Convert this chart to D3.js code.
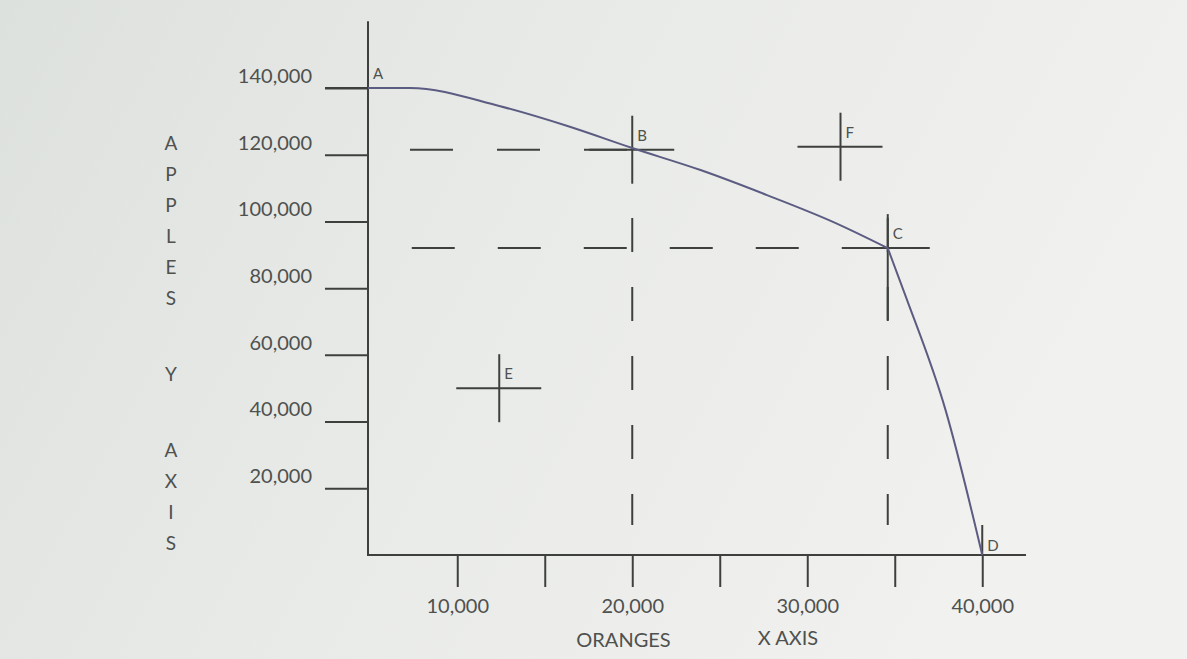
<html>
  <head>
    <meta charset="utf-8">
    <script src="https://d3js.org/d3.v7.min.js"></script>
    <title>Production possibilities</title>
    <style>
      body {
        margin: 0px;
        overflow: hidden;
      }
      text {
        font-family: Lato, "Open Sans", sans-serif;
        fill: #4f514f;
      }
      .axis .domain {
        display: none;
      }
      .axis .tick line {
        stroke: #3e403e;
        stroke-width: 2px;
      }
      .axis .tick text {
        font-size: 20px;
      }
      .ink {
        stroke: #3e403e;
        stroke-width: 2px;
        fill: none;
      }
    </style>
  </head>
  <body>
    <svg width="1187" height="659"></svg>
    <script>
      // values
      var xTickValues = [10000, 15000, 20000, 25000, 30000, 35000, 40000];
      var xTickLabels = ['10,000', '', '20,000', '', '30,000', '', '40,000'];
      var yTickValues = [20000, 40000, 60000, 80000, 100000, 120000, 140000];

      var frontierOranges = [4900, 7300, 12400, 16300, 20000, 23900, 27700, 31500, 34600, 35600, 37900, 40000];
      var frontierApples = [140000, 140000, 134600, 128600, 122000, 115400, 107900, 99800, 92000, 77900, 43500, 0];

      var pointLabels = ['A', 'B', 'C', 'D', 'E', 'F'];
      var pointOranges = [4900, 20000, 34600, 40000, 12400, 31900];
      var pointApples = [140000, 121500, 92000, 0, 50000, 122400];

      var yAxisTitle = 'APPLES Y AXIS';
      var xAxisTitle = ['ORANGES', 'X AXIS'];

      var svg = d3.select('svg');
      var width = +svg.attr('width');
      var height = +svg.attr('height');

      var grad = svg.append('defs').append('linearGradient')
          .attr('id', 'paper')
          .attr('x1', 0).attr('x2', 1).attr('y1', 0).attr('y2', 0.3);
      grad.append('stop').attr('offset', 0).attr('stop-color', '#dde1dd');
      grad.append('stop').attr('offset', 0.5).attr('stop-color', '#e9ebe8');
      grad.append('stop').attr('offset', 1).attr('stop-color', '#f1f1ef');
      svg.append('rect')
          .attr('width', width).attr('height', height)
          .attr('fill', 'url(#paper)');

      var xScale = d3.scaleLinear().domain([4900, 42500]).range([368, 1026]);
      var yScale = d3.scaleLinear().domain([0, 140000]).range([555, 88]);

      var g = svg.append('g');

      // axes (ticks + labels via d3 axes)
      var yAxis = d3.axisLeft(yScale)
          .tickValues(yTickValues)
          .tickFormat(d3.format(','))
          .tickSize(43)
          .tickPadding(13);
      var yAxisG = g.append('g')
          .attr('class', 'axis')
          .attr('transform', `translate(${xScale(4900)},0)`)
          .call(yAxis);
      yAxisG.selectAll('.tick text').attr('y', -12);

      var xAxis = d3.axisBottom(xScale)
          .tickValues(xTickValues)
          .tickFormat((d, i) => xTickLabels[i])
          .tickSize(32)
          .tickPadding(12);
      g.append('g')
          .attr('class', 'axis')
          .attr('transform', `translate(0,${yScale(0)})`)
          .call(xAxis);

      // axis lines
      g.append('line').attr('class', 'ink')
          .attr('x1', xScale(4900)).attr('x2', xScale(4900))
          .attr('y1', yScale(160000)).attr('y2', yScale(0) + 1);
      g.append('line').attr('class', 'ink')
          .attr('x1', xScale(4900)).attr('x2', xScale(42500))
          .attr('y1', yScale(0)).attr('y2', yScale(0));

      // dashed guides
      var B = 1, C = 2;
      g.append('line').attr('class', 'ink')
          .attr('stroke-dasharray', '43,44')
          .attr('x1', xScale(7300)).attr('x2', xScale(pointOranges[B]))
          .attr('y1', yScale(pointApples[B])).attr('y2', yScale(pointApples[B]));
      g.append('line').attr('class', 'ink')
          .attr('stroke-dasharray', '43,43')
          .attr('x1', xScale(7400)).attr('x2', xScale(pointOranges[C]))
          .attr('y1', yScale(pointApples[C])).attr('y2', yScale(pointApples[C]));
      [B, C].forEach(i => {
        g.append('line').attr('class', 'ink')
            .attr('stroke-dasharray', '34,35')
            .attr('x1', xScale(pointOranges[i])).attr('x2', xScale(pointOranges[i]))
            .attr('y1', yScale(101000)).attr('y2', yScale(9000));
      });

      // A: horizontal stroke through the axis
      g.append('line').attr('class', 'ink')
          .attr('x1', xScale(4900) - 43).attr('x2', xScale(7300))
          .attr('y1', yScale(140000)).attr('y2', yScale(140000));

      // cross hairs
      var crossPts = [B, C, 4, 5];
      crossPts.forEach(i => {
        var cx = xScale(pointOranges[i]);
        var cy = yScale(pointApples[i]);
        var down = i === C ? 72 : 34;
        g.append('line').attr('class', 'ink')
            .attr('x1', cx - 43).attr('x2', cx + 42)
            .attr('y1', cy).attr('y2', cy);
        g.append('line').attr('class', 'ink')
            .attr('x1', cx).attr('x2', cx)
            .attr('y1', cy - 34).attr('y2', cy + down);
      });
      // D marker
      g.append('line').attr('class', 'ink')
          .attr('x1', xScale(40000)).attr('x2', xScale(40000))
          .attr('y1', yScale(0) - 30).attr('y2', yScale(0));

      // frontier curve, split at the kink at C
      var frontier = frontierOranges.map((o, i) => [o, frontierApples[i]]);
      var kink = frontierOranges.indexOf(pointOranges[C]);
      var line = d3.line()
          .x(d => xScale(d[0]))
          .y(d => yScale(d[1]))
          .curve(d3.curveMonotoneX);
      [frontier.slice(0, kink + 1), frontier.slice(kink)].forEach(part => {
        g.append('path')
            .attr('d', line(part))
            .attr('fill', 'none')
            .attr('stroke', '#5c5c82')
            .attr('stroke-width', 2)
            .attr('stroke-linejoin', 'round');
      });

      // point letters
      g.selectAll('.pt-label').data(pointLabels)
        .enter().append('text')
          .attr('class', 'pt-label')
          .attr('x', (d, i) => xScale(pointOranges[i]) + 5)
          .attr('y', (d, i) => yScale(pointApples[i]) - (i === 3 ? 4 : 9))
          .attr('font-size', 15)
          .text(d => d);

      // y title, one letter per row
      var yy = 143;
      yAxisTitle.split('').forEach(ch => {
        if (ch === ' ') { yy += 45; return; }
        g.append('text')
            .attr('x', 171).attr('y', yy)
            .attr('dy', '0.35em')
            .attr('text-anchor', 'middle')
            .attr('font-size', 19)
            .text(ch);
        yy += 31;
      });

      // x title
      g.append('text')
          .attr('x', xScale(19500)).attr('y', 640)
          .attr('dy', '0.35em')
          .attr('text-anchor', 'middle')
          .attr('font-size', 20)
          .text(xAxisTitle[0]);
      g.append('text')
          .attr('x', xScale(28900)).attr('y', 638)
          .attr('dy', '0.35em')
          .attr('text-anchor', 'middle')
          .attr('font-size', 20)
          .text(xAxisTitle[1]);
    </script>
  </body>
</html>
